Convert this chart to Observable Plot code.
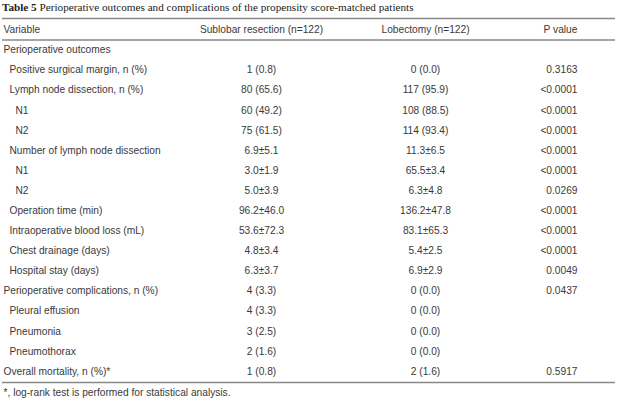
<!DOCTYPE html>
<html>
<head>
<meta charset="utf-8">
<script src="https://cdn.jsdelivr.net/npm/d3@7"></script>
<script src="https://cdn.jsdelivr.net/npm/@observablehq/plot@0.6"></script>
<style>
  html, body { margin: 0; padding: 0; background: #fff; }
  #wrap { position: relative; width: 640px; height: 404px; overflow: hidden; }
  #title { position: absolute; left: 2px; top: 1px; font-family: "Liberation Serif", "Times New Roman", serif; font-size: 11.2px; color: #222; white-space: nowrap; }
  #chart { position: absolute; left: 0; top: 0; }
</style>
</head>
<body>
<div id="wrap">
  <div id="chart"></div>
  <div id="title"><b>Table 5</b> Perioperative outcomes and complications of the propensity score-matched patients</div>
</div>
<script>
// ---- data ----
const headers = ["Variable", "Sublobar resection (n=122)", "Lobectomy (n=122)", "P value"];
const variables = [
  "Perioperative outcomes",
  "Positive surgical margin, n (%)",
  "Lymph node dissection, n (%)",
  "N1",
  "N2",
  "Number of lymph node dissection",
  "N1",
  "N2",
  "Operation time (min)",
  "Intraoperative blood loss (mL)",
  "Chest drainage (days)",
  "Hospital stay (days)",
  "Perioperative complications, n (%)",
  "Pleural effusion",
  "Pneumonia",
  "Pneumothorax",
  "Overall mortality, n (%)*"
];
const levels = [0, 1, 1, 2, 2, 1, 2, 2, 1, 1, 1, 1, 0, 1, 1, 1, 0];
const sublobar = ["", "1 (0.8)", "80 (65.6)", "60 (49.2)", "75 (61.5)", "6.9±5.1", "3.0±1.9", "5.0±3.9",
  "96.2±46.0", "53.6±72.3", "4.8±3.4", "6.3±3.7", "4 (3.3)", "4 (3.3)", "3 (2.5)", "2 (1.6)", "1 (0.8)"];
const lobectomy = ["", "0 (0.0)", "117 (95.9)", "108 (88.5)", "114 (93.4)", "11.3±6.5", "65.5±3.4", "6.3±4.8",
  "136.2±47.8", "83.1±65.3", "5.4±2.5", "6.9±2.9", "0 (0.0)", "0 (0.0)", "0 (0.0)", "0 (0.0)", "2 (1.6)"];
const pvalues = ["", "0.3163", "<0.0001", "<0.0001", "<0.0001", "<0.0001", "<0.0001", "0.0269",
  "<0.0001", "<0.0001", "<0.0001", "0.0049", "0.0437", "", "", "", "0.5917"];
const footnote = "*, log-rank test is performed for statistical analysis.";

// ---- layout (not data) ----
const indent = [3, 9, 15];
const colX = { sub: 261, lob: 425, p: 577 };

const rows = variables.map((v, i) => ({
  i, v, level: levels[i], s: sublobar[i], l: lobectomy[i], p: pvalues[i]
}));
const head = [{ i: -1 }];
const ink = "#3a3a3a";

const chart = Plot.plot({
  width: 640,
  height: 404,
  margin: 0,
  x: { type: "linear", domain: [0, 640], range: [0, 640], axis: null },
  y: { type: "linear", domain: [-1, 16], range: [29.4, 371], axis: null },
  style: { fontFamily: "'Liberation Sans', Arial, sans-serif", fontSize: "10.2px", background: "transparent", color: ink },
  marks: [
    Plot.ruleY([-1.57, -0.5, 16.55], { x1: 2, x2: 615, stroke: "#888", strokeWidth: 1.4 }),
    Plot.text(head, { x: indent[0], y: "i", text: () => headers[0], textAnchor: "start", fill: ink }),
    Plot.text(head, { x: colX.sub, y: "i", text: () => headers[1], textAnchor: "middle", fill: ink }),
    Plot.text(head, { x: colX.lob, y: "i", text: () => headers[2], textAnchor: "middle", fill: ink }),
    Plot.text(head, { x: 560, y: "i", text: () => headers[3], textAnchor: "middle", fill: ink }),
    Plot.text(rows, { x: d => indent[d.level], y: "i", text: "v", textAnchor: "start", fill: ink }),
    Plot.text(rows, { x: colX.sub, y: "i", text: "s", textAnchor: "middle", fill: ink }),
    Plot.text(rows, { x: colX.lob, y: "i", text: "l", textAnchor: "middle", fill: ink }),
    Plot.text(rows, { x: colX.p, y: "i", text: "p", textAnchor: "end", fill: ink }),
    Plot.text([footnote], { x: indent[0], y: 17.05, text: d => d, textAnchor: "start", fill: ink })
  ]
});
document.getElementById("chart").appendChild(chart);
</script>
</body>
</html>
